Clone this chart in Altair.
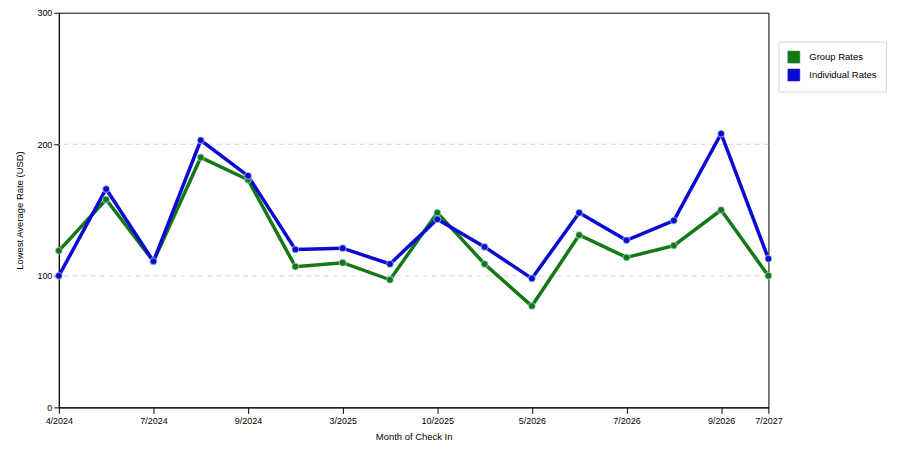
import altair as alt
import pandas as pd

# tick labels shown on the x axis, keyed by point index
tick_index = [0, 2, 4, 6, 8, 10, 12, 14, 15]
tick_labels = ["4/2024", "7/2024", "9/2024", "3/2025", "10/2025",
               "5/2026", "7/2026", "9/2026", "7/2027"]

series_names = ["Group Rates", "Individual Rates"]
series_colors = ["#147814", "#0a0ad2"]

group_rates = [119, 158, 111, 190, 173, 107, 110, 97, 148, 109, 77, 131, 114, 123, 150, 100]
individual_rates = [100, 166, 111, 203, 176, 120, 121, 109, 143, 122, 98, 148, 127, 142, 208, 113]

rows = []
for i, v in enumerate(group_rates):
    rows.append({"idx": i, "rate": v, "series": series_names[0]})
for i, v in enumerate(individual_rates):
    rows.append({"idx": i, "rate": v, "series": series_names[1]})
df = pd.DataFrame(rows)

label_expr = "{" + ", ".join(f"'{k}': '{t}'" for k, t in zip(tick_index, tick_labels)) + "}[datum.value]"

font = "Liberation Sans"
color = alt.Color(
    "series:N",
    scale=alt.Scale(domain=series_names, range=series_colors),
    legend=alt.Legend(
        title=None, orient="none", legendX=722, legendY=29,
        symbolType="square", symbolSize=144, symbolStrokeWidth=0.5, symbolStrokeColor="#333",
        labelFont=font, labelFontSize=9.5, labelColor="#000", labelOffset=9,
        padding=9, rowPadding=3, strokeColor="#d8d8d8", fillColor="white",
    ),
)

x = alt.X(
    "idx:Q",
    scale=alt.Scale(domain=[0, 15], nice=False, zero=False),
    axis=alt.Axis(
        values=tick_index, labelExpr=label_expr, title="Month of Check In",
        grid=False, labelFlush=False, labelFont=font, labelFontSize=9, labelColor="#000",
        titleFont=font, titleFontSize=9.5, titleFontWeight="normal", titleColor="#000",
        domainColor="#000", tickColor="#000", tickSize=6, labelPadding=3, titlePadding=6,
    ),
)
y = alt.Y(
    "rate:Q",
    scale=alt.Scale(domain=[0, 300], nice=False),
    axis=alt.Axis(
        values=[0, 100, 200, 300], title="Lowest Average Rate (USD)",
        grid=False, labelFont=font, labelFontSize=9, labelColor="#000",
        titleFont=font, titleFontSize=9.5, titleFontWeight="normal", titleColor="#000",
        domainColor="#000", tickColor="#000", tickSize=5, labelPadding=2, titlePadding=12,
    ),
)

grid = (
    alt.Chart(pd.DataFrame({"g": [100, 200]}))
    .mark_rule(color="#d4d4d4", strokeDash=[5, 4], strokeWidth=1)
    .encode(y=alt.Y("g:Q", scale=alt.Scale(domain=[0, 300])))
)

base = alt.Chart(df).encode(x=x, y=y, color=color, detail="series:N")
lines = base.mark_line(strokeWidth=3.5, strokeJoin="miter")
points = base.mark_circle(size=45, opacity=1, stroke="#a8d0e8", strokeWidth=1.2, strokeOpacity=0.6)

chart = (
    alt.layer(grid, lines, points)
    .properties(width=712, height=396, padding={"left": 6, "top": 0, "right": 5, "bottom": 0})
    .configure(background="white")
    .configure_view(stroke="#000", strokeWidth=1)
)

chart.save("out.html", embed_options={"renderer": "svg", "actions": False})
